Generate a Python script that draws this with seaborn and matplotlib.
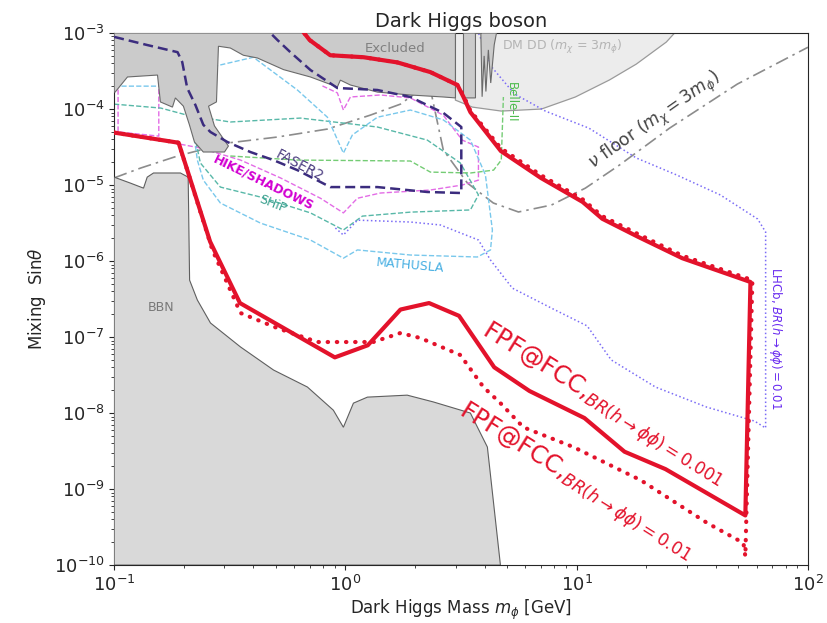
import matplotlib
matplotlib.use("Agg")
import matplotlib.pyplot as plt
import seaborn as sns

sns.set_style("ticks")
plt.rcParams["font.family"] = ["DejaVu Sans"]
plt.rcParams["mathtext.fontset"] = "dejavusans"

# ---------------- data: dark Higgs mass [GeV] and mixing sin(theta) ----------------
# FPF@FCC reach, BR(h -> phi phi) = 0.001 (closed contour)
fpf_001_mass = [0.1, 0.19, 0.26, 0.35, 0.9, 1.25, 1.73, 2.3, 3.1, 4.4, 6.25, 10.8, 16.1, 24.2, 53.6,
                56.4, 28.6, 18.5, 12.9, 10.6, 7.0, 4.7, 3.47, 3.24, 3.05, 2.33, 1.68, 1.2, 0.86, 0.7, 0.62]
fpf_001_mix = [4.9e-5, 3.6e-5, 1.8e-6, 2.8e-7, 5.4e-8, 7.8e-8, 2.3e-7, 2.8e-7, 1.9e-7, 4.0e-8, 1.95e-8,
               8.6e-9, 3.1e-9, 1.83e-9, 4.5e-10,
               5.3e-7, 1.09e-6, 2.07e-6, 3.6e-6, 6.0e-6, 1.24e-5, 2.8e-5, 9.1e-5, 1.44e-4, 2.07e-4,
               3.06e-4, 4.1e-4, 4.8e-4, 5.1e-4, 8.1e-4, 1.3e-3]

# FPF@FCC reach, BR(h -> phi phi) = 0.01
fpf_01_mass = [0.1, 0.19, 0.266, 0.352, 0.508, 0.757, 1.32, 1.73, 2.11, 3.14, 3.95, 4.68, 5.88, 9.68,
               18.9, 36.7, 52.6, 53.6,
               57.5, 28.6, 18.5, 12.9, 10.6, 7.0, 4.7, 3.47, 3.24, 3.05, 2.33, 1.68, 1.2, 0.86, 0.7, 0.62]
fpf_01_mix = [4.9e-5, 3.6e-5, 1.4e-6, 2.07e-7, 1.31e-7, 8.6e-8, 8.6e-8, 1.13e-7, 9.7e-8, 5.8e-8, 2.2e-8,
              1.35e-8, 6.5e-9, 3.57e-9, 1.31e-9, 3.57e-10, 1.95e-10, 1.3e-10,
              5.6e-7, 1.18e-6, 2.25e-6, 3.9e-6, 6.5e-6, 1.35e-5, 3.05e-5, 9.5e-5, 1.5e-4, 2.07e-4,
              3.06e-4, 4.1e-4, 4.8e-4, 5.1e-4, 8.1e-4, 1.3e-3]

# existing exclusion (top)
excl_mass = [0.1, 2.99, 2.99, 2.65, 1.91, 1.375, 1.051, 0.951, 0.923, 0.706, 0.54, 0.416, 0.362, 0.318,
             0.2825, 0.277, 0.256, 0.2715, 0.312, 0.300, 0.243, 0.2225, 0.2116, 0.1993, 0.184, 0.1787,
             0.1585, 0.154, 0.1142, 0.101, 0.1]
excl_mix = [1e-3, 1e-3, 1.40e-4, 1.44e-4, 1.53e-4, 1.67e-4, 2.07e-4, 2.4e-4, 1.95e-4, 2.64e-4, 3.3e-4,
            4.7e-4, 5.1e-4, 6.35e-4, 6.7e-4, 1.24e-4, 1.09e-4, 6.0e-5, 3.26e-5, 2.72e-5, 2.72e-5,
            3.68e-5, 6.2e-5, 1.09e-4, 1.40e-4, 1.06e-4, 1.24e-4, 2.8e-4, 2.64e-4, 1.67e-4, 1.67e-4]

# narrow excluded strips around 3-4.5 GeV
strip_mass = [3.24, 3.24, 3.65, 3.65, 3.85, 3.9, 3.98, 4.05, 4.15, 4.25, 4.4, 4.5]
strip_mix = [1e-3, 1.4e-4, 1.4e-4, 1e-3, 1e-3, 1.45e-4, 5e-4, 1.7e-4, 6e-4, 2.2e-4, 7e-4, 1e-3]

# dark matter direct detection (m_chi = 3 m_phi)
dmdd_mass = [2.99, 26.5, 24.4, 18.1, 13.85, 9.87, 7.04, 4.72, 3.54, 2.99]
dmdd_mix = [1e-3, 1e-3, 7.6e-4, 3.9e-4, 2.41e-4, 1.44e-4, 1.0e-4, 9.4e-5, 1.06e-4, 1.31e-4]

# BBN
bbn_mass = [0.1, 0.1, 0.1176, 0.134, 0.139, 0.148, 0.1935, 0.209, 0.212, 0.229, 0.261, 0.352, 0.489,
            0.685, 0.887, 0.98, 1.083, 1.245, 1.85, 2.40, 3.47, 4.11, 4.68]
bbn_mix = [1e-10, 1.27e-5, 1.06e-5, 9.1e-6, 1.27e-5, 1.44e-5, 1.44e-5, 1.27e-5, 5.6e-7, 3.07e-7,
           1.53e-7, 7.4e-8, 3.68e-8, 2.2e-8, 1.09e-8, 6.5e-9, 1.35e-8, 1.62e-8, 1.72e-8, 1.40e-8,
           1.0e-8, 3.57e-9, 1e-10]

# neutrino floor (m_chi = 3 m_phi)
nufloor_mass = [0.1, 0.13, 0.188, 0.309, 0.508, 0.836, 1.28, 1.73, 2.3, 2.65, 3.37, 4.36, 5.6, 7.77,
                10.9, 15.3, 25.2, 49.5, 100]
nufloor_mix = [1.24e-5, 1.67e-5, 2.41e-5, 3.57e-5, 4.28e-5, 5.45e-5, 8.3e-5, 1.16e-4, 2.2e-4, 2.89e-5,
               1.06e-5, 5.8e-6, 4.42e-6, 5.45e-6, 9.1e-6, 1.83e-5, 5.6e-5, 2.13e-4, 6.5e-4]

# FASER2
faser2_mass = [0.1, 0.139, 0.188, 0.197, 0.207, 0.2246, 0.243, 0.261, 0.309, 0.388, 0.488, 0.62, 0.861,
               1.375, 2.26, 3.17, 3.17, 2.65, 1.91, 1.375, 0.923, 0.706, 0.578, 0.508, 0.474]
faser2_mix = [8.9e-4, 6.95e-4, 5.6e-4, 4.15e-4, 1.89e-4, 1.13e-4, 6.2e-5, 4.98e-5, 3.68e-5, 2.72e-5,
              2.13e-5, 1.57e-5, 9.4e-6, 9.4e-6, 8.1e-6, 7.85e-6, 5.8e-5, 8.9e-5, 1.44e-4, 1.78e-4,
              1.89e-4, 3.26e-4, 5.6e-4, 8.1e-4, 1e-3]

# HIKE/SHADOWS
hike_a_mass = [0.104, 0.104, 0.156, 0.156]
hike_a_mix = [4.4e-4, 5.0e-5, 4.4e-5, 4.4e-4]
hike_b_mass = [0.156, 0.236, 0.352, 0.524, 0.78, 0.98, 1.127, 1.417, 2.33, 3.20, 3.76, 3.76, 3.20,
               2.65, 1.91, 1.417, 1.051, 0.98, 0.923, 0.78]
hike_b_mix = [3.9e-5, 3.07e-5, 2.13e-5, 1.24e-5, 6.7e-6, 4.3e-6, 6.7e-6, 7.85e-6, 8.6e-6, 1.0e-5,
              1.16e-5, 3.16e-5, 3.9e-5, 8.3e-5, 1.40e-4, 1.53e-4, 1.44e-4, 9.7e-5, 1.63e-4, 2.07e-4]

# SHiP
ship_mass = [0.1, 0.159, 0.207, 0.318, 0.639, 1.375, 2.26, 3.14, 3.76, 3.47, 1.91, 1.184, 0.98, 0.706,
             0.429, 0.288, 0.236, 0.225]
ship_mix = [1.16e-4, 1.03e-4, 8.3e-5, 6.75e-5, 7.6e-5, 5.8e-5, 3.9e-5, 1.95e-5, 7.4e-6, 4.7e-6,
            4.4e-6, 3.9e-6, 2.56e-6, 4.3e-6, 6.95e-6, 9.4e-6, 1.95e-5, 3.9e-5]

# MATHUSLA
mathusla_mass = [0.1, 0.167, 0.236, 0.400, 0.620, 0.836, 0.980, 1.072, 1.375, 1.91, 2.65, 3.47, 4.03,
                 4.32, 4.24, 3.72, 1.91, 1.127, 0.98, 0.706, 0.429, 0.288, 0.243, 0.229, 0.220]
mathusla_mix = [2.0e-4, 2.0e-4, 3.3e-4, 4.8e-4, 1.78e-4, 7.8e-5, 2.63e-5, 4.56e-5, 7.8e-5, 9.7e-5,
                7.2e-5, 3.9e-5, 1.36e-5, 2.56e-6, 1.40e-6, 1.13e-6, 1.2e-6, 1.40e-6, 1.09e-6, 1.89e-6,
                3.16e-6, 5.8e-6, 1.16e-5, 2.13e-5, 5.3e-5]

# Belle-II
belle_mass = [0.318, 0.62, 1.91, 2.33, 3.47, 4.37, 4.72, 4.82]
belle_mix = [2.41e-5, 2.13e-5, 2.07e-5, 1.48e-5, 1.44e-5, 1.57e-5, 2.13e-5, 1.44e-4]

# LHCb, BR(h -> phi phi) = 0.01
lhcb_mass = [0.905, 0.98, 1.127, 1.91, 2.575, 3.76, 4.24, 5.27, 7.93, 11.1, 14.1, 21.9, 36.4, 58.7,
             65.6, 65.6, 60.6, 41.8, 27.0, 18.1, 11.3, 7.32, 5.38, 4.28, 3.87, 3.76]
lhcb_mix = [2.72e-6, 2.2e-6, 3.45e-6, 3.26e-6, 2.98e-6, 1.89e-6, 1.03e-6, 4.4e-7, 2.33e-7, 1.40e-7,
            5.0e-8, 2.2e-8, 1.2e-8, 7.85e-9, 6.35e-9, 2.41e-6, 3.57e-6, 7.4e-6, 1.36e-5, 2.27e-5,
            5.6e-5, 9.4e-5, 1.58e-4, 3.6e-4, 8.1e-4, 1e-3]

# ---------------- figure ----------------
RED = "#e3122b"
fig = plt.figure(figsize=(8.27, 6.23), dpi=100)
ax = fig.add_axes([0.138, 0.093, 0.839, 0.854])
ax.set_xscale("log")
ax.set_yscale("log")


def curve(m, s, **kw):
    sns.lineplot(x=m, y=s, sort=False, estimator=None, ax=ax, legend=False, **kw)


# shaded regions
ax.fill(dmdd_mass, dmdd_mix, facecolor="#ececec", edgecolor="#9a9a9a", lw=0.9, zorder=1)
ax.fill(bbn_mass, bbn_mix, facecolor="#d9d9d9", edgecolor="#5f5f5f", lw=0.8, zorder=3)
ax.fill(excl_mass, excl_mix, facecolor="#cbcbcb", edgecolor="#6a6a6a", lw=0.8, zorder=3)
ax.fill(strip_mass, strip_mix, facecolor="#cbcbcb", edgecolor="#6a6a6a", lw=0.8, zorder=3)

# projected sensitivities (thin lines, partly covered by the exclusion)
curve(nufloor_mass, nufloor_mix, color="#8c8c8c", lw=1.2, linestyle=(0, (8, 3, 1.5, 3)), zorder=2)
curve(hike_a_mass, hike_a_mix, color="#e36ce6", lw=1.0, linestyle="--", zorder=2)
curve(hike_b_mass, hike_b_mix, color="#e36ce6", lw=1.0, linestyle="--", zorder=2)
curve(ship_mass, ship_mix, color="#58b8a8", lw=1.0, linestyle="--", zorder=2)
curve(mathusla_mass, mathusla_mix, color="#79c8ec", lw=1.0, linestyle="--", zorder=2)
curve(belle_mass, belle_mix, color="#74cc74", lw=1.0, linestyle="--", zorder=2)
curve(lhcb_mass, lhcb_mix, color="#7b6cf6", lw=1.1, linestyle=":", zorder=2)
curve(faser2_mass, faser2_mix, color="#3b2c7e", lw=1.8, linestyle=(0, (4, 2)), zorder=4)

# FPF@FCC
curve(fpf_01_mass, fpf_01_mix, color=RED, lw=3.0, linestyle=(0, (0.1, 2.1)),
      dash_capstyle="round", zorder=5)
curve(fpf_001_mass, fpf_001_mix, color=RED, lw=3.0, linestyle="-", zorder=6)

ax.set_xlim(0.1, 100)
ax.set_ylim(1e-10, 1e-3)

# labels
def label(x, y, s, **kw):
    ax.text(x, y, s, ha="center", va="center", rotation_mode="anchor", zorder=7, **kw)

label(1.645, 6.35e-4, "Excluded", color="#808080", fontsize=9.5)
label(8.67, 6.55e-4, r"DM DD ($m_\chi$ = 3$m_\phi$)", color="#b4b4b4", fontsize=9)
label(0.159, 2.48e-7, "BBN", color="#787878", fontsize=9)
label(21.9, 6.9e-5, r"$\nu$ floor ($m_\chi = 3m_\phi$)", color="#444444", fontsize=12.5, rotation=35)
label(0.633, 1.78e-5, "FASER2", color="#4b3d80", fontsize=10, rotation=-28)
label(0.442, 1.09e-5, "HIKE/SHADOWS", color="#d200d2", fontsize=9, fontweight="bold", rotation=-26)
label(0.484, 5.6e-6, "SHiP", color="#3aa08e", fontsize=9, rotation=-22)
label(1.91, 8.85e-7, "MATHUSLA", color="#45aee2", fontsize=9, rotation=-5)
label(5.22, 1.24e-4, "Belle-II", color="#4cbb4c", fontsize=8.5, rotation=-90)
label(72.3, 9.7e-8, r"LHCb, $BR(h\to\phi\phi) = 0.01$", color="#6a2cf0", fontsize=8.5, rotation=-90)

ax.text(3.85, 1.08e-7, r"FPF@FCC,$_{BR(h\to\phi\phi)=0.001}$", color=RED, fontsize=17.5,
        rotation=-32, rotation_mode="anchor", ha="left", va="baseline", zorder=7)
ax.text(3.05, 9.6e-9, r"FPF@FCC,$_{BR(h\to\phi\phi)=0.01}$", color=RED, fontsize=17.5,
        rotation=-32, rotation_mode="anchor", ha="left", va="baseline", zorder=7)

ax.set_title("Dark Higgs boson", fontsize=14, pad=4)
ax.set_xlabel(r"Dark Higgs Mass $m_\phi$ [GeV]", fontsize=12, labelpad=2)
ax.set_ylabel(r"Mixing  Sin$\theta$", fontsize=12)
ax.tick_params(labelsize=13)

fig.savefig("out.png", dpi=100)
